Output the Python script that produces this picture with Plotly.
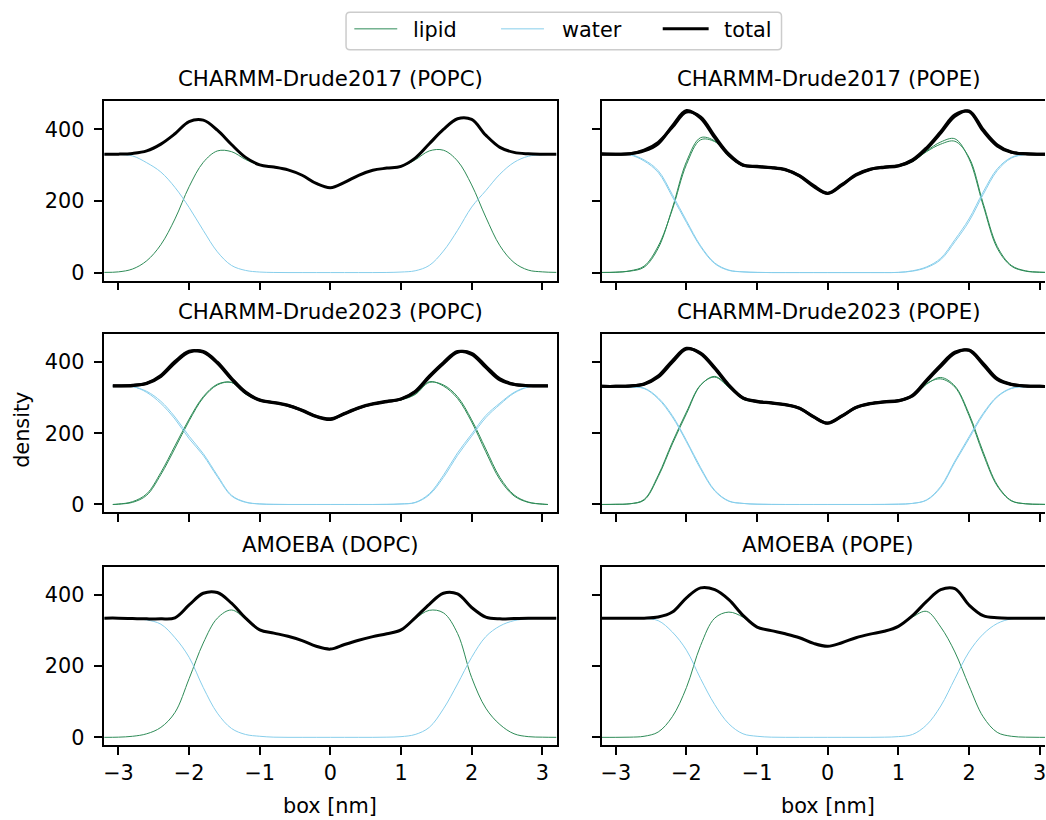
import plotly.graph_objects as go

# ---------------------------------------------------------------- data
# position along the box normal [nm]
box = [-3.2, -3.0, -2.8, -2.6, -2.4, -2.2, -2.0, -1.8, -1.6, -1.4, -1.2, -1.0,
       -0.8, -0.6, -0.4, -0.2, 0.0, 0.2, 0.4, 0.6, 0.8, 1.0, 1.2, 1.4, 1.6,
       1.8, 2.0, 2.2, 2.4, 2.6, 2.8, 3.0, 3.2]
# the Drude2023 POPC box is slightly shorter
box_short = [-3.08] + box[1:-1] + [3.08]

titles = ["CHARMM-Drude2017 (POPC)", "CHARMM-Drude2017 (POPE)",
          "CHARMM-Drude2023 (POPC)", "CHARMM-Drude2023 (POPE)",
          "AMOEBA (DOPC)", "AMOEBA (POPE)"]

# CHARMM-Drude2017 (POPC)
d17_popc_lipid = [0.5, 2, 10, 33, 78, 150, 240, 308, 340, 338, 316, 300, 295, 287, 272, 249, 237,
                  252, 272, 286, 292, 296, 315, 340, 342, 312, 245, 155, 75, 28, 7, 2, 0.5]
d17_popc_water = [331, 330, 326, 307, 281, 238, 182, 118, 58, 20, 6, 1.5, 0.3, 0, 0, 0, 0,
                  0, 0, 0, 0.3, 1.5, 5, 20, 60, 118, 183, 229, 275, 308, 325, 329, 331]
d17_popc_total = [331, 331, 333, 340, 359, 388, 422, 426, 398, 358, 322, 301, 295, 287, 272, 249, 237,
                  252, 272, 286, 292, 297, 320, 360, 400, 430, 428, 384, 350, 336, 332, 331, 331]

# CHARMM-Drude2017 (POPE), two replicas
d17_pope_lipid_a = [0.3, 1, 4, 15, 68, 180, 310, 377, 368, 325, 298, 297, 294, 288, 270, 241, 221,
                    244, 274, 289, 294, 297, 310, 340, 365, 374, 318, 188, 68, 18, 4, 1, 0.3]
d17_pope_lipid_b = [0.3, 1, 5, 18, 74, 176, 302, 371, 366, 326, 299, 296, 293, 287, 271, 243, 222,
                    246, 272, 288, 295, 298, 311, 338, 359, 367, 322, 194, 73, 20, 5, 1, 0.3]
d17_pope_water_a = [331, 331, 330, 315, 285, 218, 145, 75, 27, 7, 2, 0.5, 0, 0, 0, 0, 0,
                    0, 0, 0, 0, 0.5, 5, 16, 40, 92, 150, 225, 290, 322, 330, 331, 331]
d17_pope_water_b = [331, 331, 329, 312, 280, 212, 140, 72, 25, 6, 2, 0.5, 0, 0, 0, 0, 0,
                    0, 0, 0, 0, 0.5, 4, 14, 36, 86, 143, 218, 285, 320, 330, 331, 331]
d17_pope_total_a = [331, 331, 332, 340, 360, 410, 453, 432, 377, 328, 300, 297, 294, 288, 270, 241, 221,
                    244, 274, 289, 294, 298, 313, 346, 390, 437, 452, 400, 357, 337, 332, 331, 331]
d17_pope_total_b = [332, 331, 332, 342, 364, 406, 449, 435, 381, 331, 301, 296, 293, 287, 271, 243, 222,
                    246, 272, 288, 295, 299, 315, 349, 394, 441, 450, 396, 354, 336, 332, 331, 331]

# CHARMM-Drude2023 (POPC), two replicas
d23_popc_lipid_a = [0, 1, 8, 30, 90, 165, 240, 303, 338, 343, 311, 293, 287, 279, 264, 247, 239,
                    256, 272, 283, 290, 295, 310, 345, 333, 298, 232, 148, 70, 24, 6, 1, 0]
d23_popc_lipid_b = [0, 1, 6, 26, 84, 158, 235, 300, 336, 343, 310, 292, 286, 278, 265, 248, 241,
                    255, 271, 282, 289, 294, 309, 343, 336, 303, 238, 156, 76, 27, 7, 1, 0]
d23_popc_water_a = [334, 334, 332, 315, 284, 240, 185, 138, 78, 24, 6, 1.5, 0.3, 0, 0, 0, 0,
                    0, 0, 0, 0.3, 1.5, 6, 30, 82, 145, 198, 250, 285, 315, 331, 334, 334]
d23_popc_water_b = [333, 333, 331, 318, 290, 246, 192, 143, 82, 26, 7, 1.5, 0.3, 0, 0, 0, 0,
                    0, 0, 0, 0.3, 1.5, 5, 27, 76, 138, 192, 244, 281, 313, 330, 333, 333]
d23_popc_total_a = [334, 334, 335, 340, 360, 398, 428, 430, 400, 355, 316, 294, 287, 279, 264, 247, 239,
                    256, 272, 283, 290, 297, 318, 361, 399, 430, 422, 385, 350, 337, 334, 334, 334]
d23_popc_total_b = [333, 333, 334, 341, 363, 402, 431, 428, 397, 352, 314, 293, 286, 278, 265, 248, 241,
                    255, 271, 282, 289, 296, 316, 358, 396, 428, 425, 389, 353, 338, 334, 333, 333]

# CHARMM-Drude2023 (POPE), two replicas
d23_pope_lipid_a = [0, 0.5, 2, 12, 78, 170, 255, 335, 360, 330, 297, 289, 286, 281, 271, 246, 228,
                    248, 273, 284, 289, 291, 303, 338, 357, 333, 255, 148, 55, 11, 2, 0.5, 0]
d23_pope_lipid_b = [0, 0.5, 2, 14, 82, 175, 260, 336, 358, 329, 296, 288, 285, 280, 270, 247, 229,
                    249, 272, 283, 288, 290, 305, 340, 353, 330, 250, 142, 52, 10, 2, 0.5, 0]
d23_pope_water_a = [332, 332, 330, 327, 300, 250, 180, 104, 40, 10, 3, 0.8, 0.2, 0, 0, 0, 0,
                    0, 0, 0, 0.2, 0.8, 3, 12, 48, 118, 185, 252, 302, 326, 331, 332, 332]
d23_pope_water_b = [332, 332, 330, 326, 297, 246, 176, 100, 38, 9, 3, 0.8, 0.2, 0, 0, 0, 0,
                    0, 0, 0, 0.2, 0.8, 3, 13, 51, 122, 190, 256, 304, 327, 331, 332, 332]
d23_pope_total_a = [332, 332, 333, 338, 358, 400, 437, 426, 385, 336, 300, 290, 286, 281, 271, 246, 228,
                    248, 273, 284, 289, 292, 305, 347, 388, 425, 434, 397, 354, 338, 333, 332, 332]
d23_pope_total_b = [332, 332, 333, 339, 361, 404, 439, 424, 382, 334, 299, 289, 285, 280, 270, 247, 229,
                    249, 272, 283, 288, 291, 307, 350, 392, 428, 433, 393, 351, 337, 333, 332, 332]

# AMOEBA (DOPC)
amoeba_dopc_lipid = [0, 0.5, 3, 10, 28, 70, 165, 265, 335, 358, 332, 300, 293, 284, 272, 256, 248,
                     261, 273, 283, 291, 300, 333, 357, 350, 292, 168, 82, 36, 10, 2, 0.5, 0]
amoeba_dopc_water = [335, 335, 334, 330, 318, 280, 225, 140, 68, 25, 8, 3, 0.5, 0, 0, 0, 0,
                     0, 0, 0, 0.5, 2, 8, 28, 80, 150, 225, 283, 313, 328, 333, 335, 335]
amoeba_dopc_total = [335, 335, 334, 333, 333, 336, 372, 405, 407, 377, 335, 302, 293, 284, 272, 256, 248,
                     261, 273, 283, 291, 302, 336, 374, 405, 403, 365, 338, 333, 334, 335, 335, 335]

# AMOEBA (POPE)
amoeba_pope_lipid = [0, 0, 0.5, 3, 15, 58, 140, 258, 335, 352, 338, 309, 300, 291, 280, 264, 256,
                     266, 280, 290, 298, 311, 338, 354, 310, 240, 145, 58, 14, 3, 0.5, 0, 0]
amoeba_pope_water = [335, 335, 335, 334, 328, 296, 245, 165, 92, 38, 10, 3, 0.5, 0, 0, 0, 0,
                     0, 0, 0, 0.5, 2, 8, 35, 88, 165, 240, 290, 320, 333, 335, 335, 335]
amoeba_pope_total = [335, 335, 335, 335, 338, 352, 392, 420, 415, 387, 343, 310, 300, 291, 280, 264, 256,
                     266, 280, 290, 298, 312, 342, 382, 415, 418, 372, 342, 336, 335, 335, 335, 335]

legend_labels = ["lipid", "water", "total"]
x_ticks = [-3, -2, -1, 0, 1, 2, 3]
y_ticks = [0, 200, 400]

panels = [
    dict(x=box, lipid=[d17_popc_lipid], water=[d17_popc_water], total=[d17_popc_total]),
    dict(x=box, lipid=[d17_pope_lipid_a, d17_pope_lipid_b],
         water=[d17_pope_water_a, d17_pope_water_b], total=[d17_pope_total_a, d17_pope_total_b]),
    dict(x=box_short, lipid=[d23_popc_lipid_a, d23_popc_lipid_b],
         water=[d23_popc_water_a, d23_popc_water_b], total=[d23_popc_total_a, d23_popc_total_b]),
    dict(x=box, lipid=[d23_pope_lipid_a, d23_pope_lipid_b],
         water=[d23_pope_water_a, d23_pope_water_b], total=[d23_pope_total_a, d23_pope_total_b]),
    dict(x=box, lipid=[amoeba_dopc_lipid], water=[amoeba_dopc_water], total=[amoeba_dopc_total]),
    dict(x=box, lipid=[amoeba_pope_lipid], water=[amoeba_pope_water], total=[amoeba_pope_total]),
]

# ---------------------------------------------------------------- style
GREEN = "#2e8b57"
BLUE = "#87ceeb"
BLACK = "#000000"
FONT = "DejaVu Sans"
FS = 20.8
FS_TITLE = 21.3

FIG_W, FIG_H = 1046, 820


def fx(px):
    return px / FIG_W


def fy(py):
    return 1 - py / FIG_H


COL_PX = [(102.7, 556.7), (601.7, 1046.0)]
COL_CENTER = [329.7, 828.7]
ROW_PX = [(101.7, 282.0), (335.7, 515.0), (569.7, 749.0)]
X_RANGES = [[-3.212, 3.203], [-3.202, 3.076]]
Y_RANGE = [-22.5, 479]

fig = go.Figure()
layout = dict(
    width=FIG_W, height=FIG_H,
    margin=dict(l=0, r=0, t=0, b=0, pad=0),
    paper_bgcolor="white", plot_bgcolor="white",
    showlegend=False,
    font=dict(family=FONT, size=FS, color=BLACK),
)

annotations = []
shapes = []

for i, p in enumerate(panels):
    n = i + 1
    r, c = divmod(i, 2)
    xa = "x" if n == 1 else f"x{n}"
    ya = "y" if n == 1 else f"y{n}"

    for key, color, width in (("lipid", GREEN, 1.0), ("water", BLUE, 1.0)):
        for ys in p[key]:
            fig.add_trace(go.Scatter(
                x=p["x"], y=ys, mode="lines", xaxis=xa, yaxis=ya,
                line=dict(color=color, width=width, shape="spline", smoothing=1.0),
                hoverinfo="skip"))
    for ys in p["total"]:
        fig.add_trace(go.Scatter(
            x=p["x"], y=ys, mode="lines", xaxis=xa, yaxis=ya,
            line=dict(color=BLACK, width=3.0, shape="spline", smoothing=1.0),
            hoverinfo="skip"))

    axis_common = dict(
        ticks="outside", ticklen=8, tickwidth=1.7, tickcolor=BLACK,
        showline=True, linecolor=BLACK, linewidth=1.7,
        showgrid=False, zeroline=False, ticklabeloverflow="allow",
        tickfont=dict(family=FONT, size=FS, color=BLACK),
    )
    layout["xaxis" if n == 1 else f"xaxis{n}"] = dict(
        axis_common,
        domain=[fx(COL_PX[c][0]), fx(COL_PX[c][1])],
        range=X_RANGES[c], anchor=ya,
        tickmode="array", tickvals=x_ticks,
        showticklabels=(r == 2), mirror=True,
    )
    layout["yaxis" if n == 1 else f"yaxis{n}"] = dict(
        axis_common,
        domain=[fy(ROW_PX[r][1]), fy(ROW_PX[r][0])],
        range=Y_RANGE, anchor=xa,
        tickmode="array", tickvals=y_ticks,
        showticklabels=(c == 0), mirror=(c == 0),
        ticklabelstandoff=5,
    )

    annotations.append(dict(
        text=titles[i], xref="paper", yref="paper",
        x=fx(COL_CENTER[c]), y=fy(ROW_PX[r][0] - 23),
        xanchor="center", yanchor="middle", showarrow=False, borderpad=0,
        font=dict(family=FONT, size=FS_TITLE, color=BLACK)))

# axis labels
for c in range(2):
    annotations.append(dict(
        text="box [nm]", xref="paper", yref="paper",
        x=fx(COL_CENTER[c]), y=fy(810), xanchor="center", yanchor="middle",
        showarrow=False, borderpad=0, font=dict(family=FONT, size=FS, color=BLACK)))
annotations.append(dict(
    text="density", xref="paper", yref="paper", textangle=-90,
    x=fx(21), y=fy(432), xanchor="center", yanchor="middle",
    showarrow=False, borderpad=0, font=dict(family=FONT, size=FS, color=BLACK)))

# legend frame with rounded corners
lx0, ly0, lx1, ly1, rad = 345.7, 12.3, 782.0, 50.0, 4.0


def pt(px, py):
    return f"{fx(px):.5f},{fy(py):.5f}"


frame = (f"M{pt(lx0 + rad, ly0)} L{pt(lx1 - rad, ly0)} Q{pt(lx1, ly0)} {pt(lx1, ly0 + rad)} "
         f"L{pt(lx1, ly1 - rad)} Q{pt(lx1, ly1)} {pt(lx1 - rad, ly1)} "
         f"L{pt(lx0 + rad, ly1)} Q{pt(lx0, ly1)} {pt(lx0, ly1 - rad)} "
         f"L{pt(lx0, ly0 + rad)} Q{pt(lx0, ly0)} {pt(lx0 + rad, ly0)} Z")
shapes.append(dict(type="path", xref="paper", yref="paper", path=frame,
                   line=dict(color="#cccccc", width=1.5), fillcolor="rgba(255,255,255,0.8)"))

legend_items = [
    (legend_labels[0], GREEN, 1.0, 354, 397, 412),
    (legend_labels[1], BLUE, 1.0, 501, 544, 561),
    (legend_labels[2], BLACK, 3.0, 663, 709, 723),
]
for label, color, width, sx0, sx1, tx in legend_items:
    shapes.append(dict(type="line", xref="paper", yref="paper",
                       x0=fx(sx0), x1=fx(sx1), y0=fy(29), y1=fy(29),
                       line=dict(color=color, width=width)))
    annotations.append(dict(
        text=label, xref="paper", yref="paper", x=fx(tx), y=fy(30),
        xanchor="left", yanchor="middle", showarrow=False, borderpad=0,
        font=dict(family=FONT, size=FS, color=BLACK)))

layout["annotations"] = annotations
layout["shapes"] = shapes
fig.update_layout(**layout)

fig.write_html("out.html")
